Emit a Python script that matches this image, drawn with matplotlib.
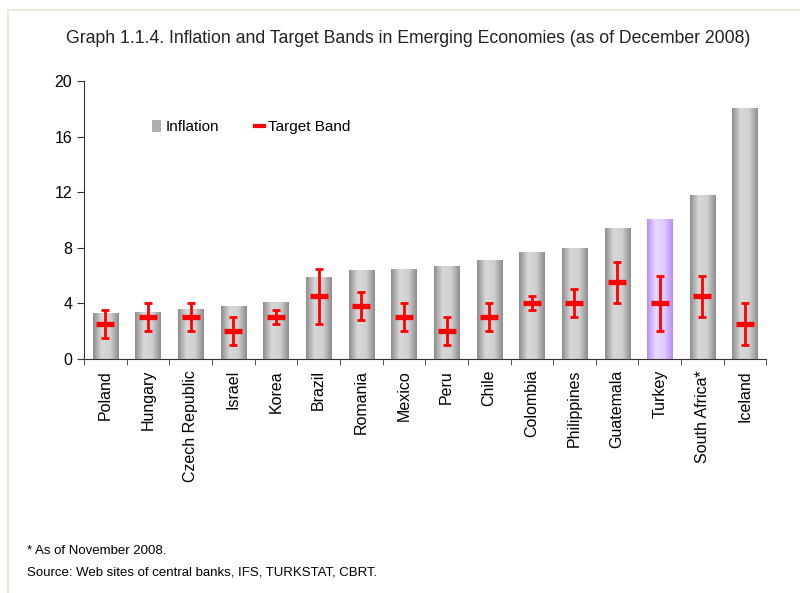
import numpy as np
import matplotlib.pyplot as plt
from matplotlib.lines import Line2D
from matplotlib.patches import Rectangle
from matplotlib.colors import LinearSegmentedColormap

plt.rcParams['font.family'] = ['Liberation Sans', 'DejaVu Sans']

countries = ['Poland', 'Hungary', 'Czech Republic', 'Israel', 'Korea', 'Brazil',
             'Romania', 'Mexico', 'Peru', 'Chile', 'Colombia', 'Philippines',
             'Guatemala', 'Turkey', 'South Africa*', 'Iceland']
inflation = [3.3, 3.4, 3.6, 3.8, 4.1, 5.9, 6.4, 6.5, 6.7, 7.1, 7.7, 8.0, 9.4, 10.1, 11.8, 18.1]
band_low = [1.5, 2.0, 2.0, 1.0, 2.5, 2.5, 2.8, 2.0, 1.0, 2.0, 3.5, 3.0, 4.0, 2.0, 3.0, 1.0]
band_high = [3.5, 4.0, 4.0, 3.0, 3.5, 6.5, 4.8, 4.0, 3.0, 4.0, 4.5, 5.0, 7.0, 6.0, 6.0, 4.0]
target = [2.5, 3.0, 3.0, 2.0, 3.0, 4.5, 3.8, 3.0, 2.0, 3.0, 4.0, 4.0, 5.5, 4.0, 4.5, 2.5]

gray_cmap = LinearSegmentedColormap.from_list('cyl_gray', ['#8c8c8c', '#d8d8d8', '#d0d0d0', '#8c8c8c'])
purple_cmap = LinearSegmentedColormap.from_list('cyl_purple', ['#b98cf2', '#e8d8ff', '#e0ccff', '#b98cf2'])
grad = np.linspace(0, 1, 256).reshape(1, -1)

fig = plt.figure(figsize=(8.0, 5.93), dpi=100)
ax = fig.add_axes([0.105, 0.395, 0.853, 0.468])

x = np.arange(len(countries))
bars = ax.bar(x, inflation, width=0.59, color='none', edgecolor='none', zorder=2)
for i, patch in enumerate(bars):
    cmap = purple_cmap if countries[i] == 'Turkey' else gray_cmap
    x0 = patch.get_x()
    im = ax.imshow(grad, cmap=cmap, aspect='auto', zorder=2,
                   extent=[x0, x0 + patch.get_width(), 0, patch.get_height()])
    im.set_clip_path(patch)

# target bands: range whiskers plus a thick mark at the target
t = np.array(target)
ax.errorbar(x, t, yerr=[t - np.array(band_low), np.array(band_high) - t],
            fmt='none', ecolor='#ff0000', elinewidth=2.0, capsize=3, capthick=2.0, zorder=3)
ax.scatter(x, t, marker='_', s=180, linewidths=3.8, color='#ff0000', zorder=4)

ax.set_xlim(-0.5, len(countries) - 0.5)
ax.set_ylim(0, 20)
ax.set_yticks([0, 4, 8, 12, 16, 20])
ax.set_xticks(x)
ax.set_xticklabels(countries, rotation=90, fontsize=11.5)
ax.set_xticks(np.arange(-0.5, len(countries)), minor=True)
ax.tick_params(axis='x', which='major', length=0, pad=8)
ax.tick_params(axis='x', which='minor', length=4, direction='out', color='#333333')
ax.tick_params(axis='y', length=5, direction='out', labelsize=11.5, color='#333333')
for side in ['top', 'right']:
    ax.spines[side].set_visible(False)
for side in ['left', 'bottom']:
    ax.spines[side].set_color('#333333')

# legend
infl_handle = Rectangle((0, 0), 1, 1, facecolor='#b0b0b0', edgecolor='none')
band_handle = Line2D([], [], color='#ff0000', lw=3)
ax.legend([infl_handle, band_handle], ['Inflation', 'Target Band'], ncol=2,
          frameon=False, loc='upper left', bbox_to_anchor=(0.08, 0.91),
          handlelength=0.55, handleheight=0.8, handletextpad=0.3, columnspacing=2.4,
          fontsize=11)

fig.text(0.51, 0.935, 'Graph 1.1.4. Inflation and Target Bands in Emerging Economies (as of December 2008)',
         ha='center', va='center', fontsize=12.7, color='#222222')
fig.text(0.034, 0.07, '* As of November 2008.', fontsize=9.5, va='center')
fig.text(0.034, 0.035, 'Source: Web sites of central banks, IFS, TURKSTAT, CBRT.', fontsize=9.5, va='center')

# light frame along top and left edge
fig.add_artist(Line2D([0.01, 1.0], [0.983, 0.983], color='#ece9d8', lw=1.5, transform=fig.transFigure))
fig.add_artist(Line2D([0.01, 0.01], [0.0, 0.983], color='#ece9d8', lw=1.5, transform=fig.transFigure))

fig.savefig('out.png', dpi=100)
